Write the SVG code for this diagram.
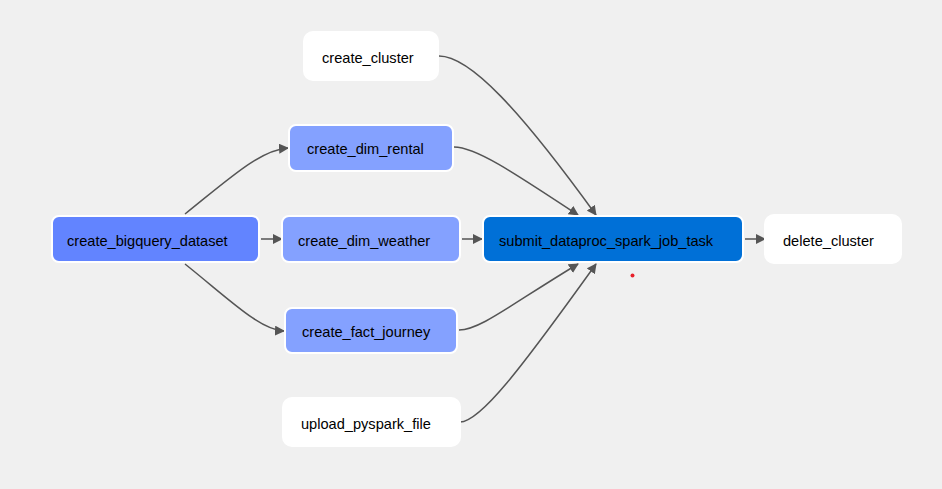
<svg xmlns="http://www.w3.org/2000/svg" width="942" height="489" viewBox="0 0 942 489">
<defs>
<marker id="arrow" viewBox="0 0 10 10" refX="9" refY="5" markerWidth="10" markerHeight="10" markerUnits="userSpaceOnUse" orient="auto">
<path d="M0,0 L10,5 L0,10 z" fill="#555"/>
</marker>
</defs>
<style>
.node rect{stroke:#fff;stroke-width:2}
.node text{font-family:"Liberation Sans",Arial,sans-serif;font-size:14.6px;fill:#000}
.white rect{fill:#fff}
.lt rect{fill:#84a1ff}
.dk rect{fill:#6284ff}
.sub rect{fill:#0070d7}
.edges path{fill:none;stroke:#555;stroke-width:1.5;marker-end:url(#arrow)}
</style>
<rect width="942" height="489" fill="#f0f0f0"/>
<g class="edges">
<path d="M439,56 C470,56 520,110 596,215"/>
<path d="M454,147 C475,147 510,170 578,215"/>
<path d="M185,214 C230,178 260,150 288,148"/>
<path d="M185,264 C230,300 260,330 284,331"/>
<path d="M261,239 L282,239"/>
<path d="M462,239 L482,239"/>
<path d="M745,239 L765,239"/>
<path d="M459,330 C480,330 510,305 578,264"/>
<path d="M460,422 C480,422 520,370 596,264"/>
</g>
<g id="create_cluster" class="node white"><rect x="304" y="32" width="134" height="48" rx="9"/><text x="322" y="63">create_cluster</text></g>
<g id="create_dim_rental" class="node lt"><rect x="289" y="125" width="164" height="46" rx="7"/><text x="307" y="154">create_dim_rental</text></g>
<g id="create_bigquery_dataset" class="node dk"><rect x="52" y="216" width="207" height="46" rx="7"/><text x="67" y="246">create_bigquery_dataset</text></g>
<g id="create_dim_weather" class="node lt"><rect x="282" y="216" width="178" height="46" rx="7"/><text x="298" y="246">create_dim_weather</text></g>
<g id="submit_dataproc_spark_job_task" class="node sub"><rect x="483" y="216" width="260" height="46" rx="7"/><text x="499" y="246">submit_dataproc_spark_job_task</text></g>
<g id="delete_cluster" class="node white"><rect x="765" y="215" width="136" height="48" rx="9"/><text x="783" y="246">delete_cluster</text></g>
<g id="create_fact_journey" class="node lt"><rect x="285" y="308" width="172" height="45" rx="7"/><text x="302" y="337">create_fact_journey</text></g>
<g id="upload_pyspark_file" class="node white"><rect x="283" y="398" width="177" height="48" rx="9"/><text x="301" y="429">upload_pyspark_file</text></g>
<circle cx="632.5" cy="275.5" r="2" fill="#e8202a"/>
</svg>
